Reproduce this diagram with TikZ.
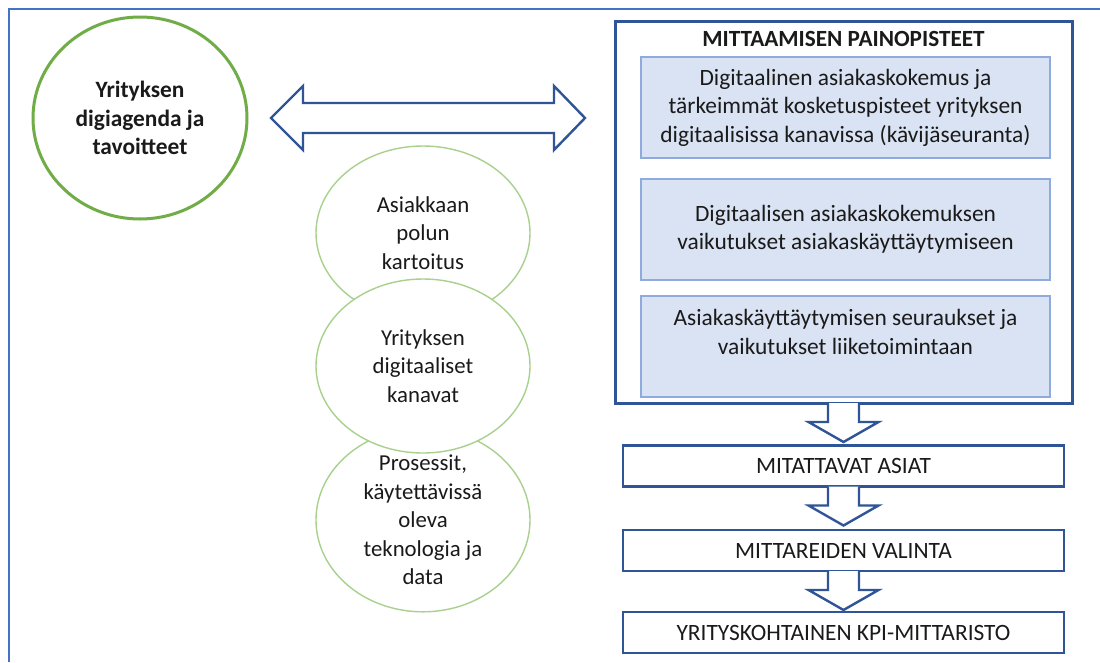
\documentclass[tikz,border=0pt]{standalone}
\usepackage{fontspec}
\setmainfont{Carlito}
\usetikzlibrary{shapes.geometric,calc}

\definecolor{frameblue}{HTML}{4472C4}
\definecolor{darkblue}{HTML}{2F5597}
\definecolor{paleblue}{HTML}{DAE3F3}
\definecolor{paleedge}{HTML}{8FAADC}
\definecolor{leafgreen}{HTML}{70AD47}
\definecolor{softgreen}{HTML}{A9D18E}
\definecolor{ink}{HTML}{1A1A1A}

% block arrow pointing down from the bottom of one box towards the next
\newcommand\flowdown[1]{%
  \draw[blockarrow] ($(#1.south)+(-15.5,0)$) -- ($(#1.south)+(-15.5,19)$)
    -- ($(#1.south)+(-35,19)$) -- ($(#1.south)+(0,39)$)
    -- ($(#1.south)+(35,19)$) -- ($(#1.south)+(15.5,19)$)
    -- ($(#1.south)+(15.5,0)$);}

\begin{document}
\begin{tikzpicture}[x=1pt,y=-1pt,
  goal/.style={ellipse, draw=leafgreen, line width=3pt, minimum width=214pt,
    minimum height=202pt, inner sep=0pt, align=center, text=ink,
    font=\bfseries\fontsize{23.4}{28.5}\selectfont},
  area/.style={ellipse, draw=softgreen, line width=1.4pt, fill=white,
    minimum width=214pt, minimum height=174pt, inner sep=0pt, align=center,
    text=ink, font=\fontsize{22.8}{28.5}\selectfont},
  pbox/.style={rectangle, draw=paleedge, line width=1.2pt, fill=paleblue,
    minimum width=409pt, minimum height=101pt, inner sep=0pt, outer sep=0pt},
  ptext/.style={align=center, text=ink, font=\fontsize{23.4}{28.5}\selectfont},
  stepbox/.style={rectangle, draw=darkblue, line width=2.6pt, fill=white,
    minimum width=441pt, minimum height=41pt, inner sep=0pt, outer sep=0pt,
    text=ink, font=\fontsize{23.4}{28}\selectfont},
  blockarrow/.style={draw=darkblue, line width=2.4pt, fill=white, line join=miter}]

\useasboundingbox (0,0) rectangle (1100,662);
\fill[white] (0,0) rectangle (1100,662);

% outer frame (runs off the right and bottom edges)
\draw[frameblue, line width=2pt] (9,662) -- (9,9) -- (1100,9);

% goals circle
\node[goal] (goal) at (140,118) {Yrityksen\\digiagenda ja\\tavoitteet};

% two-way block arrow between goals and the focus areas
\coordinate (dl) at (271,118);
\coordinate (dr) at (585,118);
\draw[blockarrow] (dl) -- ($(dl)+(32,-32)$) -- ($(dl)+(32,-15)$)
  -- ($(dr)+(-31,-15)$) -- ($(dr)+(-31,-32)$) -- (dr)
  -- ($(dr)+(-31,32)$) -- ($(dr)+(-31,15)$)
  -- ($(dl)+(32,15)$) -- ($(dl)+(32,32)$) -- cycle;

% background areas
\node[area] (path) at (423,233) {Asiakkaan\\polun\\kartoitus};
\node[area] (tech) at (423,520) {Prosessit,\\käytettävissä\\oleva\\teknologia ja\\data};
\node[area] (chan) at (423,366) {Yrityksen\\digitaaliset\\kanavat};

% focus areas of measuring
\node[rectangle, draw=darkblue, line width=3pt, minimum width=457pt,
  minimum height=382pt, outer sep=0pt] (focus) at (843.5,212) {};
\node[text=ink, font=\bfseries\fontsize{23.2}{28}\selectfont] (title) at (843.5,39)
  {MITTAAMISEN PAINOPISTEET};
\node[pbox] (p1) at (845.5,107.5) {};
\node[ptext] (p1t) at (p1.center) {Digitaalinen asiakaskokemus ja\\tärkeimmät kosketuspisteet yrityksen\\digitaalisissa kanavissa (kävijäseuranta)};
\node[pbox] (p2) at (845.5,229.5) {};
\node[ptext] (p2t) at (p2.center) {Digitaalisen asiakaskokemuksen\\vaikutukset asiakaskäyttäytymiseen};
\node[pbox] (p3) at (845.5,346.5) {};
\node[ptext] (p3t) at ([yshift=14.5pt]p3.center) {Asiakaskäyttäytymisen seuraukset ja\\vaikutukset liiketoimintaan};

% steps towards the KPI set
\node[stepbox] (s1) at (843.5,466) {MITATTAVAT ASIAT};
\node[stepbox] (s2) at (843.5,550.5) {MITTAREIDEN VALINTA};
\node[stepbox] (s3) at (843.5,632.5) {YRITYSKOHTAINEN KPI-MITTARISTO};

\flowdown{focus}
\flowdown{s1}
\flowdown{s2}

\end{tikzpicture}
\end{document}
